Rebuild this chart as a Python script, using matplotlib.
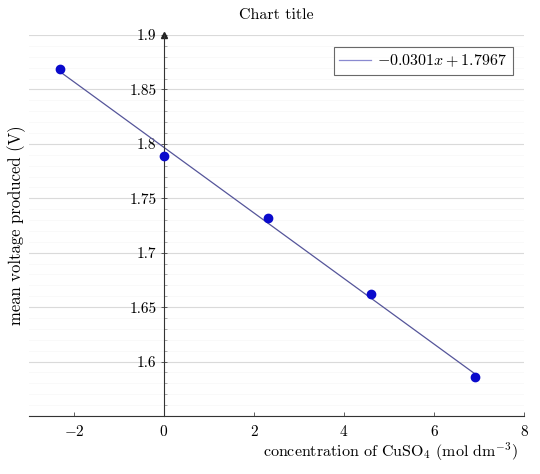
import numpy as np
import matplotlib
matplotlib.use("Agg")
import matplotlib.pyplot as plt
from matplotlib.ticker import MultipleLocator, FuncFormatter

plt.rcParams['font.family'] = 'serif'
plt.rcParams['font.serif'] = ['cmr10']
plt.rcParams['mathtext.fontset'] = 'cm'
plt.rcParams['axes.formatter.use_mathtext'] = True
plt.rcParams['axes.unicode_minus'] = True

# data: ln of concentration vs mean voltage
conc_ln = [-2.303, 0.0, 2.303, 4.605, 6.908]
voltage = [1.869, 1.789, 1.732, 1.662, 1.586]
slope = -0.0301
intercept = 1.7967
fit_label = r'$-0.0301x + 1.7967$'

fig = plt.figure(figsize=(5.4, 4.74), dpi=100)
ax = fig.add_axes([29/540, 58/474, 495/540, 381/474])

ax.set_xlim(-3, 8)
ax.set_ylim(1.55, 1.9)

ax.yaxis.set_major_locator(MultipleLocator(0.05))
ax.yaxis.set_minor_locator(MultipleLocator(0.01))
ax.xaxis.set_major_locator(MultipleLocator(2))

def yfmt(v, pos):
    if v < 1.575:
        return ''
    return '%g' % round(v, 2)
ax.yaxis.set_major_formatter(FuncFormatter(yfmt))

ax.grid(True, axis='y', which='major', color='#dadada', lw=0.8)
ax.grid(True, axis='y', which='minor', color='#f8f8f8', lw=0.6)
ax.set_axisbelow(True)

ax.spines['left'].set_position(('data', 0))
ax.spines['top'].set_visible(False)
ax.spines['right'].set_visible(False)
for s in ['left', 'bottom']:
    ax.spines[s].set_linewidth(0.8)
    ax.spines[s].set_color('#333333')

ax.tick_params(axis='y', which='major', direction='inout', length=5, width=0.6,
               labelsize=11, pad=3, color='#444444')
ax.tick_params(axis='y', which='minor', direction='in', length=2.5, width=0.5,
               color='#888888')
ax.tick_params(axis='x', which='major', direction='in', length=3, width=0.6,
               labelsize=11, pad=6, color='#444444')

# arrows at ends of axis lines
ax.plot(0, 1, marker='^', color='#222222', ms=4, transform=ax.get_xaxis_transform(),
        clip_on=False)
ax.plot(1, 0, marker='>', color='#222222', ms=4, transform=ax.get_yaxis_transform(),
        clip_on=False)

xs = np.array(conc_ln)
ax.plot(xs, slope * xs + intercept, color='#55559a', lw=0.9, label=fit_label)
ax.plot(conc_ln, voltage, 'o', color='#0a0acc', ms=6, zorder=3)

leg = ax.legend(loc='upper right', bbox_to_anchor=(484/495, 1 - 12/381),
                fontsize=11.5, frameon=True, fancybox=False, handlelength=2.0,
                borderpad=0.35, handletextpad=0.4, borderaxespad=0)
leg.get_frame().set_edgecolor('#444444')
leg.get_frame().set_linewidth(0.8)
leg.get_lines()[0].set_color('#8a8ad0')

fig.text(276/540, 1 - 15/474, 'Chart title', ha='center', va='center', fontsize=11.5)
fig.text(17/540, 1 - 225/474, 'mean voltage produced (V)', rotation=90,
         ha='center', va='center', fontsize=12)
fig.text(518/540, 1 - 452/474,
         r'concentration of CuSO$_4$ (mol dm$^{-3}$)',
         ha='right', va='center', fontsize=11.5)

fig.savefig('out.png', dpi=100)
